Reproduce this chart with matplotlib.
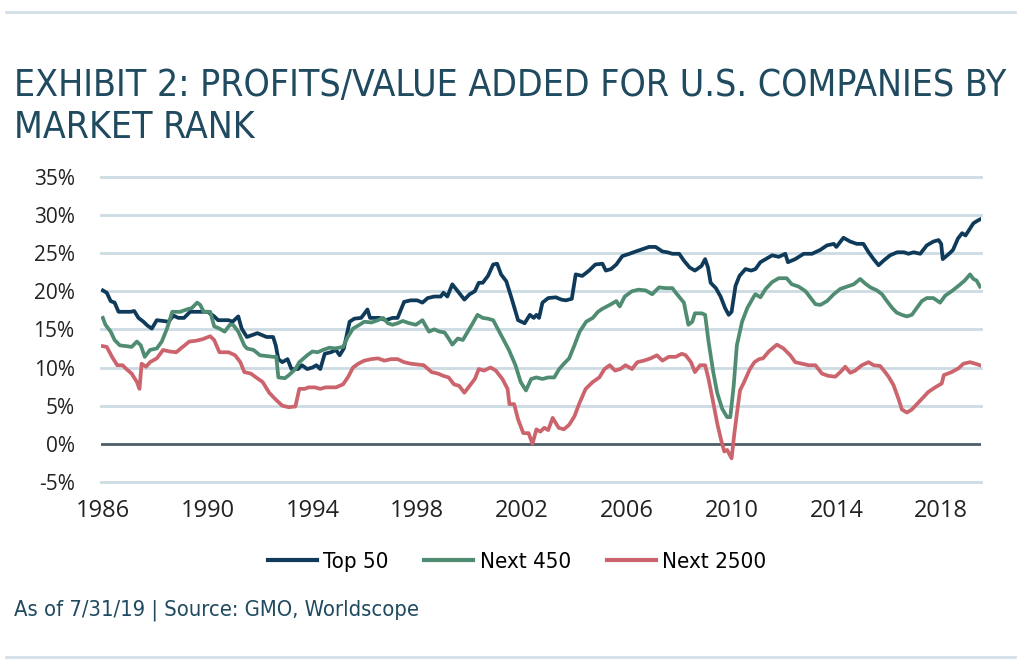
import matplotlib
matplotlib.use("Agg")
import matplotlib.pyplot as plt
from matplotlib.lines import Line2D
from matplotlib import font_manager
import numpy as np

# values (year, % profits / value added)
top50_years = [1986.0, 1986.15, 1986.3, 1986.45, 1986.6, 1987.05, 1987.2, 1987.36, 1987.55, 1987.7,
               1987.87, 1988.06, 1988.3, 1988.5, 1988.7, 1988.88, 1989.1, 1989.33, 1989.6, 1989.8,
               1990.0, 1990.25, 1990.4, 1990.8, 1990.95, 1991.17, 1991.3, 1991.5, 1991.9, 1992.25,
               1992.5, 1992.6, 1992.7, 1992.85, 1993.05, 1993.2, 1993.45, 1993.6, 1993.8, 1994.0,
               1994.15, 1994.3, 1994.47, 1994.7, 1994.9, 1995.04, 1995.2, 1995.42, 1995.6, 1995.86,
               1996.1, 1996.2, 1996.56, 1996.8, 1997.06, 1997.25, 1997.5, 1997.75, 1998.0, 1998.2,
               1998.4, 1998.65, 1998.9, 1999.0, 1999.15, 1999.34, 1999.5, 1999.8, 2000.0, 2000.2,
               2000.35, 2000.5, 2000.7, 2000.9, 2001.05, 2001.2, 2001.4, 2001.6, 2001.85, 2002.1,
               2002.3, 2002.45, 2002.55, 2002.65, 2002.78, 2003.0, 2003.29, 2003.5, 2003.67, 2003.9,
               2004.05, 2004.3, 2004.56, 2004.8, 2005.07, 2005.2, 2005.4, 2005.6, 2005.83, 2006.1,
               2006.34, 2006.6, 2006.85, 2007.1, 2007.36, 2007.55, 2007.74, 2008.0, 2008.18, 2008.4,
               2008.6, 2008.85, 2008.99, 2009.1, 2009.2, 2009.4, 2009.58, 2009.75, 2009.89, 2010.0,
               2010.15, 2010.3, 2010.53, 2010.75, 2010.91, 2011.1, 2011.3, 2011.55, 2011.8, 2012.05,
               2012.15, 2012.43, 2012.75, 2013.07, 2013.38, 2013.64, 2013.9, 2014.0, 2014.27, 2014.53,
               2014.78, 2015.03, 2015.23, 2015.42, 2015.61, 2015.8, 2016.05, 2016.32, 2016.58, 2016.75,
               2016.95, 2017.2, 2017.45, 2017.7, 2017.9, 2018.0, 2018.06, 2018.3, 2018.45, 2018.64,
               2018.8, 2018.93, 2019.1, 2019.23, 2019.42, 2019.48]
top50 = [20.1, 19.8, 18.7, 18.5, 17.3, 17.3, 17.4, 16.5, 16.0, 15.5,
         15.1, 16.2, 16.1, 16.0, 16.8, 16.5, 16.5, 17.3, 17.3, 17.3,
         17.3, 16.7, 16.2, 16.2, 16.0, 16.7, 15.1, 14.0, 14.5, 14.0,
         14.0, 12.9, 11.1, 10.7, 11.1, 9.8, 9.8, 10.3, 9.8, 10.0,
         10.3, 9.8, 11.8, 12.0, 12.3, 11.6, 12.5, 16.0, 16.4, 16.5,
         17.6, 16.5, 16.5, 16.2, 16.5, 16.5, 18.6, 18.8, 18.8, 18.5,
         19.1, 19.3, 19.3, 19.8, 19.3, 20.9, 20.2, 18.9, 19.6, 20.0,
         21.1, 21.1, 22.0, 23.5, 23.6, 22.2, 21.3, 19.1, 16.2, 15.8,
         16.9, 16.5, 16.9, 16.5, 18.5, 19.1, 19.2, 18.9, 18.8, 19.0,
         22.2, 22.0, 22.7, 23.5, 23.6, 22.7, 22.9, 23.5, 24.6, 24.9,
         25.2, 25.5, 25.8, 25.8, 25.2, 25.1, 24.9, 24.9, 24.0, 23.1,
         22.7, 23.3, 24.2, 23.1, 21.1, 20.4, 19.3, 17.8, 16.9, 17.3,
         20.7, 22.0, 22.9, 22.7, 22.9, 23.8, 24.2, 24.7, 24.5, 24.9,
         23.8, 24.2, 24.9, 24.9, 25.4, 26.0, 26.2, 25.8, 27.0, 26.5,
         26.2, 26.2, 25.1, 24.2, 23.4, 24.0, 24.7, 25.1, 25.1, 24.9,
         25.1, 24.9, 26.0, 26.5, 26.7, 26.2, 24.2, 24.9, 25.4, 26.9,
         27.6, 27.3, 28.2, 28.9, 29.3, 29.4]

next450_years = [1986.0, 1986.1, 1986.3, 1986.45, 1986.65, 1986.9, 1987.1, 1987.3, 1987.45, 1987.6,
                 1987.8, 1988.06, 1988.25, 1988.45, 1988.65, 1988.95, 1989.2, 1989.4, 1989.6, 1989.72,
                 1989.85, 1990.1, 1990.25, 1990.45, 1990.65, 1990.85, 1990.97, 1991.17, 1991.4, 1991.5,
                 1991.75, 1992.0, 1992.5, 1992.62, 1992.7, 1992.95, 1993.1, 1993.35, 1993.5, 1993.8,
                 1994.0, 1994.2, 1994.4, 1994.65, 1994.85, 1995.17, 1995.35, 1995.55, 1995.8, 1995.98,
                 1996.25, 1996.5, 1996.7, 1996.88, 1997.06, 1997.25, 1997.45, 1997.7, 1997.95, 1998.2,
                 1998.45, 1998.65, 1998.85, 1999.04, 1999.2, 1999.34, 1999.55, 1999.74, 1999.93, 2000.12,
                 2000.3, 2000.5, 2000.7, 2000.9, 2001.07, 2001.3, 2001.5, 2001.75, 2001.95, 2002.15,
                 2002.35, 2002.55, 2002.78, 2003.0, 2003.23, 2003.42, 2003.6, 2003.8, 2004.0, 2004.2,
                 2004.45, 2004.7, 2004.9, 2005.07, 2005.35, 2005.6, 2005.73, 2005.92, 2006.2, 2006.45,
                 2006.72, 2006.97, 2007.23, 2007.48, 2007.74, 2007.87, 2008.18, 2008.35, 2008.5, 2008.6,
                 2008.86, 2008.99, 2009.12, 2009.3, 2009.45, 2009.64, 2009.83, 2009.95, 2010.08, 2010.2,
                 2010.4, 2010.6, 2010.85, 2010.91, 2011.1, 2011.3, 2011.55, 2011.8, 2012.1, 2012.3,
                 2012.56, 2012.82, 2013.0, 2013.2, 2013.39, 2013.64, 2013.9, 2014.15, 2014.4, 2014.66,
                 2014.91, 2015.1, 2015.3, 2015.55, 2015.74, 2015.93, 2016.13, 2016.3, 2016.5, 2016.69,
                 2016.88, 2017.07, 2017.26, 2017.45, 2017.7, 2017.96, 2018.15, 2018.4, 2018.66, 2018.9,
                 2019.1, 2019.23, 2019.35, 2019.48]
next450 = [16.5, 15.6, 14.7, 13.6, 12.9, 12.8, 12.7, 13.4, 12.9, 11.4,
           12.3, 12.5, 13.4, 15.1, 17.3, 17.3, 17.6, 17.8, 18.5, 18.2,
           17.3, 17.3, 15.4, 15.1, 14.7, 15.6, 15.6, 14.7, 12.9, 12.5,
           12.3, 11.6, 11.4, 11.4, 8.7, 8.6, 9.0, 9.8, 10.7, 11.6,
           12.1, 12.0, 12.3, 12.6, 12.5, 12.7, 14.0, 15.1, 15.6, 16.0,
           15.9, 16.2, 16.5, 15.8, 15.6, 15.8, 16.1, 15.8, 15.6, 16.2,
           14.7, 15.0, 14.7, 14.6, 13.8, 13.0, 13.8, 13.6, 14.7, 15.8,
           16.9, 16.5, 16.4, 16.2, 15.1, 13.6, 12.3, 10.3, 8.1, 7.0,
           8.5, 8.7, 8.5, 8.7, 8.7, 9.8, 10.5, 11.2, 12.9, 14.7,
           16.0, 16.5, 17.3, 17.7, 18.2, 18.7, 18.0, 19.3, 20.0, 20.2,
           20.1, 19.6, 20.5, 20.4, 20.4, 19.8, 18.5, 15.6, 16.0, 17.1,
           17.1, 16.9, 13.4, 9.4, 6.7, 4.6, 3.5, 3.5, 7.6, 12.9,
           16.0, 17.8, 19.3, 19.6, 19.2, 20.3, 21.2, 21.7, 21.7, 20.9,
           20.6, 20.0, 19.2, 18.3, 18.2, 18.7, 19.6, 20.3, 20.6, 20.9,
           21.6, 21.0, 20.5, 20.1, 19.6, 18.7, 17.8, 17.2, 16.9, 16.7,
           16.9, 17.8, 18.7, 19.1, 19.1, 18.5, 19.4, 20.0, 20.7, 21.4,
           22.2, 21.6, 21.4, 20.6]

next2500_years = [1986.0, 1986.15, 1986.35, 1986.55, 1986.75, 1986.9, 1987.1, 1987.3, 1987.4, 1987.48,
                  1987.65, 1987.8, 1988.06, 1988.3, 1988.55, 1988.8, 1989.05, 1989.3, 1989.55, 1989.8,
                  1990.1, 1990.25, 1990.45, 1990.8, 1991.05, 1991.25, 1991.4, 1991.65, 1991.85, 1992.1,
                  1992.35, 1992.6, 1992.85, 1993.1, 1993.35, 1993.5, 1993.7, 1993.85, 1994.1, 1994.3,
                  1994.5, 1994.9, 1995.17, 1995.35, 1995.55, 1995.75, 1995.98, 1996.25, 1996.5, 1996.75,
                  1997.0, 1997.25, 1997.5, 1997.75, 1998.0, 1998.25, 1998.55, 1998.8, 1999.0, 1999.2,
                  1999.4, 1999.6, 1999.8, 2000.0, 2000.2, 2000.35, 2000.55, 2000.8, 2001.0, 2001.25,
                  2001.45, 2001.52, 2001.7, 2001.85, 2002.05, 2002.25, 2002.4, 2002.55, 2002.7, 2002.85,
                  2003.0, 2003.17, 2003.4, 2003.6, 2003.8, 2004.0, 2004.2, 2004.43, 2004.7, 2004.95,
                  2005.15, 2005.35, 2005.55, 2005.75, 2005.95, 2006.2, 2006.4, 2006.65, 2006.91, 2007.15,
                  2007.36, 2007.6, 2007.87, 2008.1, 2008.25, 2008.45, 2008.6, 2008.8, 2008.99, 2009.12,
                  2009.3, 2009.45, 2009.6, 2009.72, 2009.83, 2010.0, 2010.1, 2010.2, 2010.32, 2010.45,
                  2010.7, 2010.87, 2011.05, 2011.2, 2011.42, 2011.73, 2011.98, 2012.24, 2012.43, 2012.69,
                  2012.94, 2013.2, 2013.45, 2013.7, 2013.96, 2014.15, 2014.34, 2014.53, 2014.72, 2014.97,
                  2015.23, 2015.42, 2015.67, 2015.86, 2015.99, 2016.18, 2016.37, 2016.5, 2016.69, 2016.88,
                  2017.13, 2017.32, 2017.51, 2017.77, 2018.02, 2018.1, 2018.4, 2018.66, 2018.85, 2019.1,
                  2019.3, 2019.48]
next2500 = [12.8, 12.7, 11.4, 10.3, 10.3, 9.8, 9.2, 8.1, 7.2, 10.5,
            10.1, 10.7, 11.2, 12.3, 12.1, 12.0, 12.7, 13.4, 13.5, 13.7,
            14.1, 13.6, 12.0, 12.0, 11.6, 10.7, 9.4, 9.2, 8.7, 8.1,
            6.7, 5.8, 5.0, 4.8, 4.9, 7.2, 7.2, 7.4, 7.4, 7.2,
            7.4, 7.4, 7.8, 8.7, 10.0, 10.5, 10.9, 11.1, 11.2, 10.9,
            11.1, 11.1, 10.7, 10.5, 10.4, 10.3, 9.4, 9.2, 8.9, 8.7,
            7.8, 7.6, 6.7, 7.6, 8.5, 9.8, 9.6, 10.0, 9.6, 8.5,
            7.2, 5.2, 5.2, 3.2, 1.4, 1.4, 0.0, 1.9, 1.6, 2.1,
            1.8, 3.4, 2.1, 1.9, 2.5, 3.6, 5.4, 7.2, 8.1, 8.7,
            9.8, 10.3, 9.6, 9.8, 10.3, 9.8, 10.7, 10.9, 11.2, 11.6,
            10.9, 11.4, 11.4, 11.8, 11.6, 10.7, 9.4, 10.3, 10.3, 8.5,
            5.4, 2.7, 0.5, -1.0, -0.8, -1.9, 1.2, 3.9, 7.0, 7.9,
            9.8, 10.7, 11.1, 11.2, 12.1, 13.0, 12.5, 11.6, 10.7, 10.5,
            10.3, 10.3, 9.2, 8.9, 8.8, 9.4, 10.1, 9.3, 9.6, 10.3,
            10.7, 10.3, 10.2, 9.4, 8.8, 7.7, 5.9, 4.5, 4.1, 4.5,
            5.4, 6.1, 6.8, 7.4, 7.9, 9.0, 9.4, 9.9, 10.5, 10.7,
            10.5, 10.3]

series_labels = ["Top 50", "Next 450", "Next 2500"]
y_ticks = [-5, 0, 5, 10, 15, 20, 25, 30, 35]
x_ticks = [1986, 1990, 1994, 1998, 2002, 2006, 2010, 2014, 2018]

navy = "#0f3a5a"
green = "#4f8c72"
red = "#cb646c"
grid_col = "#cddbe2"
text_col = "#1f4a5f"

# look for a condensed face among the installed fonts
narrow_family = "Roboto"
narrow_stretch = "normal"
for f in font_manager.fontManager.ttflist:
    if f.stretch in ("condensed", "semi-condensed", 300, 400) and f.name in (
            "Liberation Sans Narrow", "DejaVu Sans", "Roboto", "Open Sans", "Noto Sans"):
        narrow_family = f.name
        narrow_stretch = f.stretch
        break
for f in font_manager.fontManager.ttflist:
    if f.name == "Liberation Sans Narrow":
        narrow_family = f.name
        narrow_stretch = f.stretch

fig = plt.figure(figsize=(10.24, 6.70), dpi=100)
ax = fig.add_axes([101 / 1024, 1 - 482 / 670, 880 / 1024, (482 - 176.7) / 670])

for v in y_ticks:
    if v == 0:
        ax.axhline(v, color="#4d5d68", lw=2.0, zorder=1)
    else:
        ax.axhline(v, color=grid_col, lw=2.0, zorder=1, clip_on=False)

ax.plot(top50_years, top50, color=navy, lw=2.7, label=series_labels[0], zorder=3)
ax.plot(next450_years, next450, color=green, lw=2.7, label=series_labels[1], zorder=4)
ax.plot(next2500_years, next2500, color=red, lw=2.7, label=series_labels[2], zorder=5)

ax.set_xlim(1985.93, 2019.52)
ax.set_ylim(-5, 35)
ax.set_yticks(y_ticks)
ax.set_yticklabels([f"{v}%" for v in y_ticks])
ax.set_xticks(x_ticks)
ax.set_xticklabels([str(v) for v in x_ticks])
for s in ax.spines.values():
    s.set_visible(False)
ax.tick_params(axis="y", length=0, pad=19, labelsize=15, labelcolor="#222222")
ax.tick_params(axis="x", length=0, pad=12, labelsize=17, labelcolor="#222222")
for lab in ax.get_xticklabels() + ax.get_yticklabels():
    lab.set_family(["Open Sans", "DejaVu Sans"])

t1 = fig.text(14 / 1024, 1 - 86 / 670, "EXHIBIT 2: PROFITS/VALUE ADDED FOR U.S. COMPANIES BY",
              family=narrow_family, stretch=narrow_stretch, weight="light",
              fontsize=29, color=text_col, va="center", ha="left")
t2 = fig.text(14 / 1024, 1 - 128 / 670, "MARKET RANK",
              family=narrow_family, stretch=narrow_stretch, weight="light",
              fontsize=29, color=text_col, va="center", ha="left")

leg = fig.legend(loc="center", bbox_to_anchor=(0.505, 1 - 562 / 670), ncol=3, frameon=False,
                 prop={"family": narrow_family, "stretch": narrow_stretch, "size": 16},
                 handlelength=2.2, handletextpad=0.3, columnspacing=1.6)
for line in leg.get_lines():
    line.set_linewidth(3)

t3 = fig.text(14 / 1024, 1 - 610 / 670, "As of 7/31/19 | Source: GMO, Worldscope",
              family=narrow_family, stretch=narrow_stretch,
              fontsize=14, color=text_col, va="center", ha="left")

# shrink/grow the title and footer to the widths they take in the reference
renderer = fig.canvas.get_renderer()
for txt, target in [(t1, 992), (t3, 406)]:
    w = txt.get_window_extent(renderer).width
    size = txt.get_fontsize() * target / w
    txt.set_fontsize(size)
    if txt is t1:
        t2.set_fontsize(size)

for yy in [12, 657]:
    fig.add_artist(Line2D([6 / 1024, 1015 / 1024], [1 - yy / 670, 1 - yy / 670],
                          color="#d3e0e6", lw=2))

fig.savefig("out.png", dpi=100)
